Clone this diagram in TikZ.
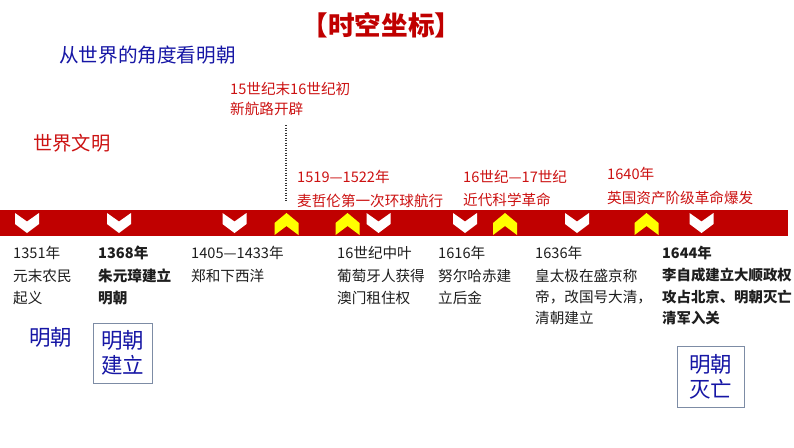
\documentclass[tikz,border=0pt]{standalone}
\usepackage{fontspec}
\setmainfont{Noto Sans CJK SC}
\definecolor{barred}{RGB}{192,0,0}
\definecolor{rtext}{RGB}{204,18,18}
\definecolor{navy}{RGB}{22,22,165}
\definecolor{boxline}{RGB}{125,140,165}
\definecolor{chevy}{RGB}{255,255,0}
\definecolor{btext}{RGB}{30,30,30}
\begin{document}
\begin{tikzpicture}[x=1pt,y=-1pt,
  lbl/.style={anchor=west, inner sep=0pt, font=\fontsize{14.6}{17}\selectfont},
  redlbl/.style={lbl, text=rtext},
  blk/.style={lbl, text=btext},
  blkb/.style={blk, font=\fontsize{14.6}{17}\selectfont\bfseries},
  bluelbl/.style={anchor=west, inner sep=0pt, text=navy},
  eraBox/.style={draw=boxline, line width=0.8pt, text=navy, align=center, inner sep=0pt,
     font=\fontsize{21.5}{25}\selectfont},
  chevdown/.pic={\fill[white] (-12,0) -- (0,8.5) -- (12,0) -- (12,11) -- (0,20) -- (-12,11) -- cycle;},
  chevup/.pic={\fill[chevy] (0,0) -- (12,10) -- (12,22) -- (0,13) -- (-12,22) -- (-12,10) -- cycle;},
  dotline/.style={draw=black!80, line width=1.5pt, dash pattern=on 1.4pt off 1.1pt}
]
\useasboundingbox[fill=white] (0,0) rectangle (794,447);

% title
\node[inner sep=0pt, text=barred, font=\fontsize{26.6}{30}\selectfont\bfseries] (title) at (381.5,25.5) {【时空坐标】};
\node[bluelbl, font=\fontsize{19.6}{22}\selectfont] (view) at (59,55) {从世界的角度看明朝};
\node[lbl, text=rtext, font=\fontsize{19.3}{22}\selectfont] (world) at (33,143) {世界文明};

% world events
\node[redlbl] (w1a) at (230,89) {15世纪末16世纪初};
\node[redlbl] (w1b) at (230,109) {新航路开辟};
\node[redlbl] (w2a) at (297,177) {1519—1522年};
\node[redlbl] (w2b) at (297,201) {麦哲伦第一次环球航行};
\node[redlbl] (w3a) at (463,177) {16世纪—17世纪};
\node[redlbl] (w3b) at (463,200) {近代科学革命};
\node[redlbl] (w4a) at (607,174) {1640年};
\node[redlbl] (w4b) at (607,198) {英国资产阶级革命爆发};

% dotted marker
\coordinate (dtop) at (286,125);
\coordinate (dbot) at (286,201);
\draw[dotline] (dtop) -- (dbot);

% bar
\fill[barred] (0,209.5) rectangle (788,235.5);
\foreach \cx in {27,119,234.5,378.5,465,577,701.5}
  \pic at (\cx,213) {chevdown};
\foreach \cx in {286.5,347.5,505,646.5}
  \pic at (\cx,213) {chevup};

% chinese events
\node[blk] (c1a) at (13,253) {1351年};
\node[blk] (c1b) at (13,275.5) {元末农民};
\node[blk] (c1c) at (13,297.5) {起义};

\node[blkb] (c2a) at (98,253) {1368年};
\node[blkb] (c2b) at (98,275.5) {朱元璋建立};
\node[blkb] (c2c) at (98,297.5) {明朝};

\node[blk] (c3a) at (191,253) {1405—1433年};
\node[blk] (c3b) at (191,275.5) {郑和下西洋};

\node[blk] (c4a) at (337,253) {16世纪中叶};
\node[blk] (c4b) at (337,275.5) {葡萄牙人获得};
\node[blk] (c4c) at (337,297.5) {澳门租住权};

\node[blk] (c5a) at (438,253) {1616年};
\node[blk] (c5b) at (438,275.5) {努尔哈赤建};
\node[blk] (c5c) at (438,297.5) {立后金};

\node[blk] (c6a) at (535,253) {1636年};
\node[blk] (c6b) at (535,275.5) {皇太极在盛京称};
\node[blk] (c6c) at (535,297.5) {帝，改国号大清，};
\node[blk] (c6d) at (535,318) {清朝建立};

\node[blkb, font=\fontsize{14.4}{17}\selectfont\bfseries] (c7a) at (662,253) {1644年};
\node[blkb, font=\fontsize{14.4}{17}\selectfont\bfseries] (c7b) at (662,275.5) {李自成建立大顺政权};
\node[blkb, font=\fontsize{14.4}{17}\selectfont\bfseries] (c7c) at (662,297.5) {攻占北京、明朝灭亡};
\node[blkb, font=\fontsize{14.4}{17}\selectfont\bfseries] (c7d) at (662,318) {清军入关};

% Ming labels
\node[bluelbl, font=\fontsize{21.5}{24}\selectfont] (ming) at (29,337) {明朝};
\node[eraBox, minimum width=59pt, minimum height=60pt] (start) at (122.5,353) {明朝\\建立};
\node[eraBox, minimum width=67pt, minimum height=61pt] (end) at (710.5,376.5) {明朝\\灭亡};
\end{tikzpicture}
\end{document}
